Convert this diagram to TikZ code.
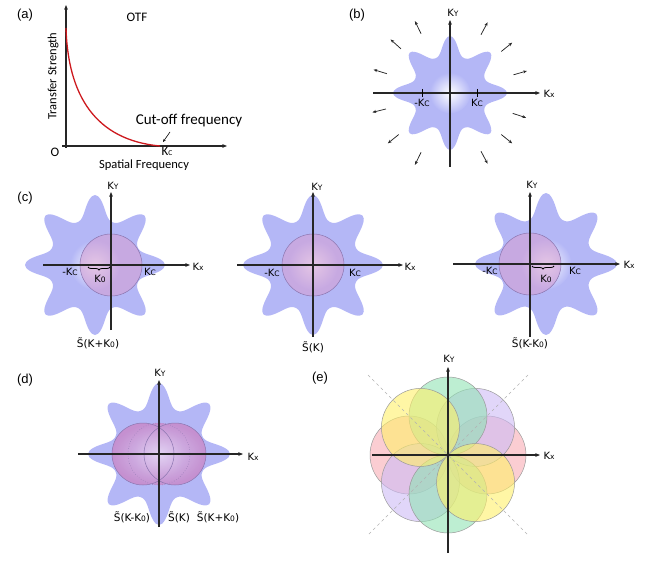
\documentclass[tikz,border=0pt]{standalone}
\usepackage{fontspec}
\setmainfont{Carlito}
\newfontfamily\panelfont{Liberation Sans}
\newfontfamily\kfont{DejaVu Sans}
\usetikzlibrary{arrows.meta,decorations.pathreplacing}
\definecolor{StarBlue}{RGB}{180,183,246}
\definecolor{PassPink}{RGB}{212,160,212}
\definecolor{PassEdge}{RGB}{140,118,176}
\definecolor{BandLight}{RGB}{222,204,242}
\definecolor{BandPink}{RGB}{200,138,202}
\definecolor{CurveRed}{RGB}{205,25,30}
\definecolor{MixPink}{RGB}{248,172,180}
\definecolor{MixGreen}{RGB}{145,226,180}
\definecolor{MixPurple}{RGB}{205,186,245}
\definecolor{MixYellow}{RGB}{255,240,105}
\newcommand{\kl}[1]{K{\fontsize{7.5}{8}\selectfont #1}}
\tikzset{
  axis/.style={-{Stealth[length=4.8pt,width=3.8pt]},line width=1.2pt,black!85},
  ray/.style={-{Stealth[length=3.8pt,width=3pt]},line width=0.75pt,black!85},
  panel/.style={font=\panelfont\fontsize{13}{15}\selectfont,inner sep=0pt},
  klabel/.style={font=\kfont\fontsize{10}{12}\selectfont,inner sep=0.5pt},
  slabel/.style={font=\kfont\fontsize{10.5}{12}\selectfont,inner sep=0.5pt},
  otftext/.style={font=\fontsize{13}{15}\selectfont,inner sep=0.5pt},
  passband/.style={fill=PassPink,fill opacity=0.6,draw=PassEdge,line width=0.5pt},
  mixdisk/.style={fill=#1,fill opacity=0.6,draw=black!40,line width=0.5pt},
  pics/specstar/.style={code={
    \fill[StarBlue] plot[smooth cycle,domain=0:357.5,samples=144]
      (\x:{#1*(0.66+0.34*(0.35*(1+cos(8*\x))/2+0.65*((1+cos(8*\x))/2)^2))});
    \shade[inner color=white,outer color=StarBlue] (0,0) circle ({0.36*#1});
  }}
}

\begin{document}
\begin{tikzpicture}[x=1pt,y=-1pt]
  \useasboundingbox (0,0) rectangle (652,569);

  % (a) OTF curve
  \node[panel] (la) at (25,15) {(a)};
  \draw[axis] (66,148) -- (66,5);
  \draw[axis] (62,146) -- (227,146);
  \draw[CurveRed,line width=1.3pt] (66,28) .. controls (68,95) and (95,140) .. (160,146);
  \node[otftext] (otf) at (137,17) {OTF};
  \node[otftext,font=\fontsize{12.5}{14}\selectfont,rotate=90] (ts) at (53,76) {Transfer Strength};
  \node[otftext] (orig) at (55,152) {O};
  \node[otftext] (kca) at (167,151) {\kl{C}};
  \node[otftext,font=\fontsize{12.5}{14}\selectfont] (sf) at (144,165) {Spatial Frequency};
  \node[otftext,font=\fontsize{15}{17}\selectfont] (cut) at (189,121) {Cut-off frequency};
  \draw[-{Stealth[length=3pt,width=2.4pt]},line width=0.6pt] (170,132) -- (163,142);

  % (b) spectrum with outward arrows
  \node[panel] (lb) at (357,15) {(b)};
  \pic at (450,93) {specstar=57};
  \draw[axis] (373,93) -- (540,93);
  \draw[axis] (450,167) -- (450,20);
  \draw[line width=1pt] (422,89) -- (422,97) (477,89) -- (477,97);
  \foreach \a in {18,39,62,116,141,166,197,222,244,298,321,344}
    \draw[ray,shift={(450,93)}] (\a:66) -- (\a:80);
  \node[klabel] (kyb) at (453,13) {\kl{Y}};
  \node[klabel] (kxb) at (549,94) {\kl{x}};
  \node[klabel] (kcbl) at (422,103) {-\kl{C}};
  \node[klabel] (kcbr) at (477,103) {\kl{C}};

  % (c) shifted spectra
  \node[panel] (lc) at (25,198) {(c)};
  \pic at (95,265) {specstar=70};
  \draw[passband] (111,265) circle (31);
  \draw[axis] (43,265) -- (190,265);
  \draw[axis] (111,330) -- (111,192);
  \draw[decorate,decoration={brace,amplitude=3pt,mirror},line width=0.8pt] (88,267) -- (110,267);
  \node[klabel] (kycl) at (113,186) {\kl{Y}};
  \node[klabel] (kxcl) at (198,267) {\kl{x}};
  \node[klabel] (kccl) at (70,272) {-\kl{C}};
  \node[klabel] (kccr) at (150,272) {\kl{C}};
  \node[klabel] (k0cl) at (100,279) {\kl{0}};
  \node[slabel] (scl) at (98,343) {S̃(K+\kl{0})};

  \pic at (313,265) {specstar=70};
  \draw[passband] (313,265) circle (31);
  \draw[axis] (237,265) -- (403,265);
  \draw[axis] (313,337) -- (313,192);
  \node[klabel] (kycm) at (317,187) {\kl{Y}};
  \node[klabel] (kxcm) at (410,267) {\kl{x}};
  \node[klabel] (kccml) at (272,273) {-\kl{C}};
  \node[klabel] (kccmr) at (355,273) {\kl{C}};
  \node[slabel] (scm) at (313,347) {S̃(K)};

  \pic at (546,264) {specstar=71};
  \draw[passband] (530,264) circle (31);
  \draw[axis] (453,264) -- (620,264);
  \draw[axis] (530,337) -- (530,192);
  \draw[decorate,decoration={brace,amplitude=3pt,mirror},line width=0.8pt] (532,266) -- (554,266);
  \node[klabel] (kycr) at (532,185) {\kl{Y}};
  \node[klabel] (kxcr) at (629,265) {\kl{x}};
  \node[klabel] (kccrl) at (490,271) {-\kl{C}};
  \node[klabel] (kccrr) at (575,271) {\kl{C}};
  \node[klabel] (k0cr) at (546,279) {\kl{0}};
  \node[slabel] (scr) at (530,343) {S̃(K-\kl{0})};

  % (d) combined passbands
  \node[panel] (ld) at (25,380) {(d)};
  \pic at (159,454) {specstar=71};
  \shade[inner color=BandLight,outer color=BandPink,opacity=0.85]
    (143,454) circle (31) (159,454) circle (31) (175,454) circle (31);
  \draw[PassEdge,line width=0.5pt] (143,454) circle (31) (175,454) circle (31);
  \draw[PassEdge,line width=0.5pt,dotted] (159,454) circle (31);
  \draw[axis] (78,454) -- (243,454);
  \draw[axis] (159,527) -- (159,380);
  \node[klabel] (kyd) at (160,373) {\kl{Y}};
  \node[klabel] (kxd) at (253,457) {\kl{x}};
  \node[slabel] (sdl) at (132,517) {S̃(K-\kl{0})};
  \node[slabel] (sdm) at (179,517) {S̃(K)};
  \node[slabel] (sdr) at (218,517) {S̃(K+\kl{0})};

  % (e) eight shifted passbands
  \node[panel] (le) at (320,378) {(e)};
  \foreach \a/\c in {0/MixPink,180/MixPink,135/MixPurple,315/MixPurple,
                     90/MixGreen,270/MixGreen,45/MixYellow,225/MixYellow}
    \draw[mixdisk=\c,shift={(448,455)}] (\a:39) circle (39);
  \draw[dashed,gray!60,line width=0.5pt] (368,375) -- (528,535) (528,375) -- (368,535);
  \draw[axis] (372,455) -- (540,455);
  \draw[axis] (448,553) -- (448,367);
  \node[klabel] (kye) at (449,359) {\kl{Y}};
  \node[klabel] (kxe) at (549,456) {\kl{x}};
\end{tikzpicture}
\end{document}
